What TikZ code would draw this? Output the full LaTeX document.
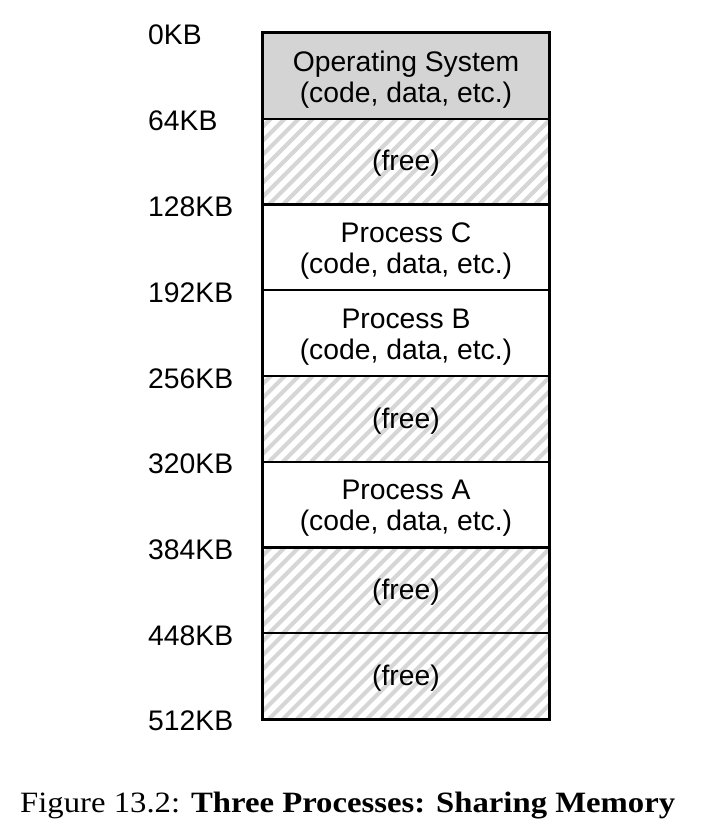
\documentclass[tikz,border=0pt]{standalone}
\usepackage{fontspec}
\usepackage{graphicx}
\setmainfont{Liberation Serif}
\newfontfamily\helv{Liberation Sans}
\definecolor{osgray}{RGB}{212,212,212}
\definecolor{hatchgray}{RGB}{214,214,214}
\tikzset{
  seg/.style={draw=black, line width=2.4pt, minimum width=286pt, minimum height=85.75pt,
    inner sep=0pt, fill=white},
  osseg/.style={seg, fill=osgray},
  freeseg/.style={seg, path picture={
      \foreach \i in {-120,-106,...,320}
        \draw[hatchgray, line width=4.2pt]
          ([xshift=\i pt]path picture bounding box.south west) -- ++(130,-130);
    }},
  segtext/.style={inner sep=0pt, align=center, font=\helv\fontsize{28.3}{31}\selectfont, text=black},
  addr/.style={anchor=west, inner sep=0pt, font=\helv\fontsize{28.3}{31}\selectfont},
}
\begin{document}
\begin{tikzpicture}[x=1pt,y=-1pt]
\useasboundingbox (0,0) rectangle (712,840);
% segments (top at y=33, each 85.75 tall)
\node[osseg]   (os) at (406,75.875)  {};
\node[freeseg] (f1) at (406,161.625) {};
\node[seg]     (pc) at (406,247.375) {};
\node[seg]     (pb) at (406,333.125) {};
\node[freeseg] (f2) at (406,418.875) {};
\node[seg]     (pa) at (406,504.625) {};
\node[freeseg] (f3) at (406,590.375) {};
\node[freeseg] (f4) at (406,676.125) {};
% outer border redrawn on top
\draw[line width=2.4pt] (os.north west) rectangle (f4.south east);
% segment texts
\node[segtext] (tos) at ([yshift=-4pt]os.center) {Operating System\\(code, data, etc.)};
\node[segtext] (tf1) at ([yshift=-2pt]f1.center) {(free)};
\node[segtext] (tpc) at ([yshift=-4pt]pc.center) {Process C\\(code, data, etc.)};
\node[segtext] (tpb) at ([yshift=-4pt]pb.center) {Process B\\(code, data, etc.)};
\node[segtext] (tf2) at ([yshift=-2pt]f2.center) {(free)};
\node[segtext] (tpa) at ([yshift=-4pt]pa.center) {Process A\\(code, data, etc.)};
\node[segtext] (tf3) at ([yshift=-2pt]f3.center) {(free)};
\node[segtext] (tf4) at ([yshift=-2pt]f4.center) {(free)};
% address labels
\node[addr] (a0) at (148,35)  {0KB};
\node[addr] (a1) at (148,121) {64KB};
\node[addr] (a2) at (148,207) {128KB};
\node[addr] (a3) at (148,293) {192KB};
\node[addr] (a4) at (148,379) {256KB};
\node[addr] (a5) at (148,464) {320KB};
\node[addr] (a6) at (148,550) {384KB};
\node[addr] (a7) at (148,636) {448KB};
\node[addr] (a8) at (148,721) {512KB};
% caption
\node[anchor=west, inner sep=0pt] (cap) at (20,806)
  {\resizebox{655pt}{\height}{\fontsize{29.5}{32}\selectfont Figure 13.2: \textbf{Three Processes: Sharing Memory}}};
\end{tikzpicture}
\end{document}
